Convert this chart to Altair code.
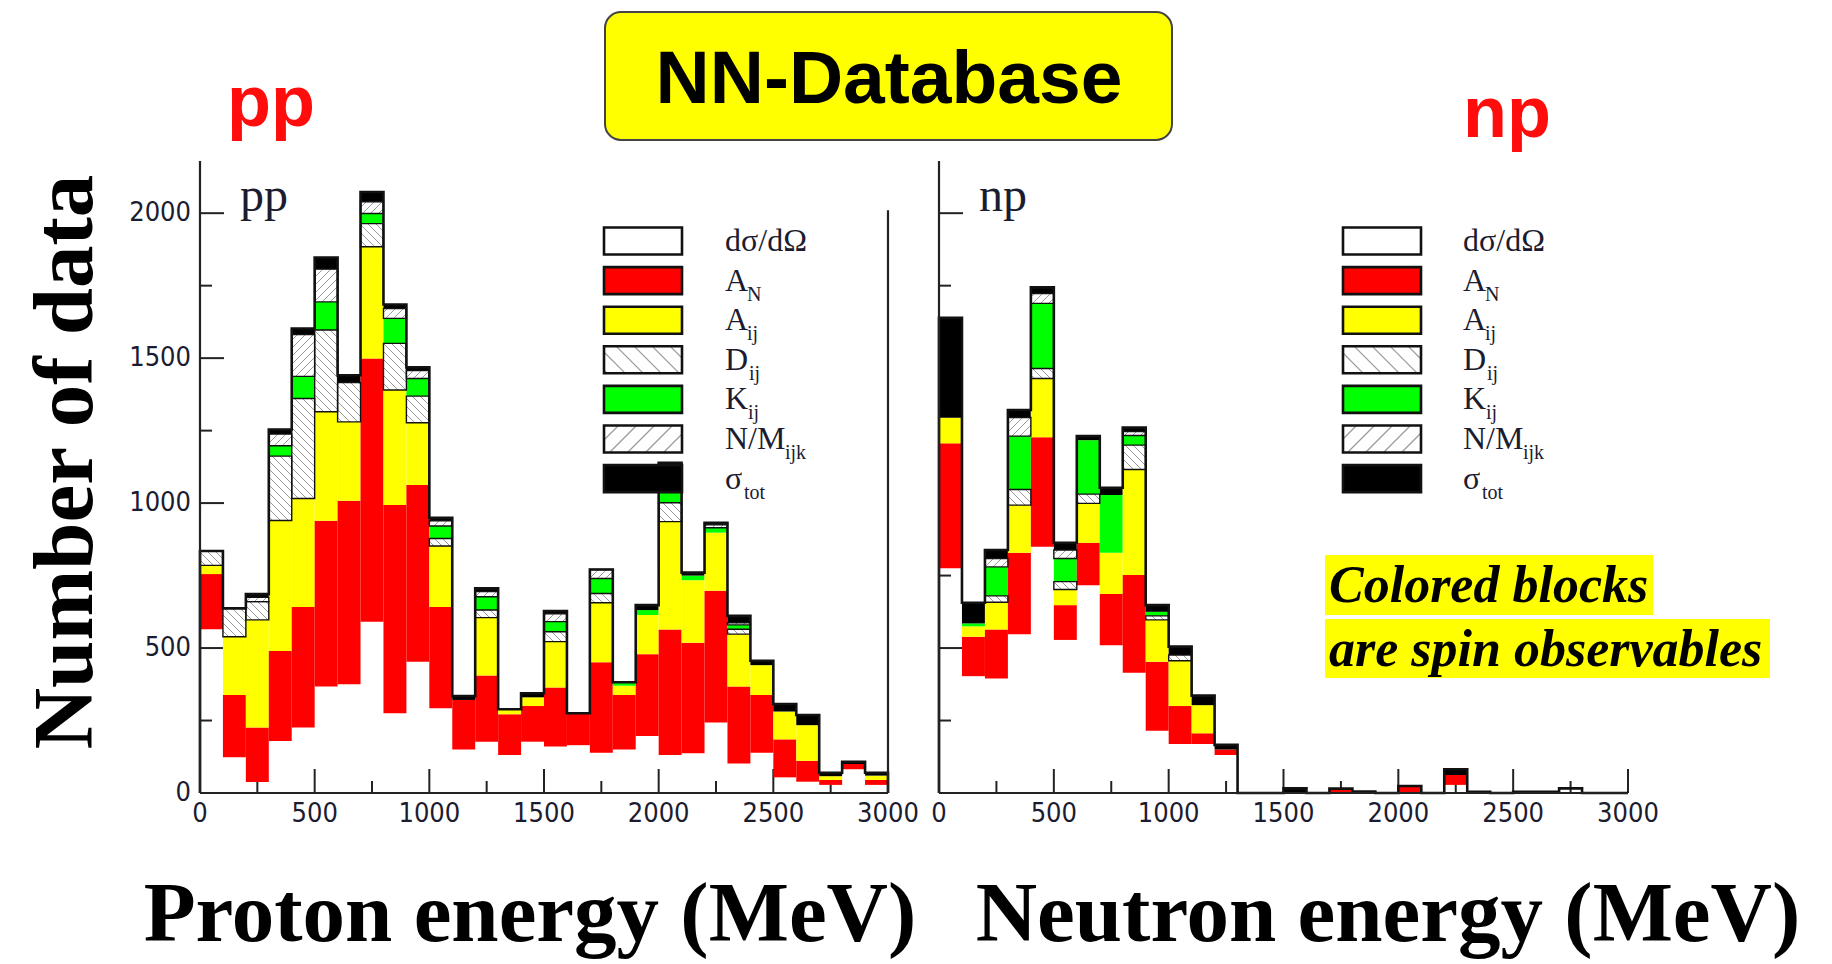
import math

import altair as alt
import pandas as pd

# ---------------------------------------------------------------------------
# Observable classes, stacked bottom to top in every 100 MeV energy bin
# ---------------------------------------------------------------------------
OBS = ["dσ/dΩ", "A_N", "A_ij", "D_ij", "K_ij", "N/M_ijk", "σ_tot"]
KEY_MAIN = ["dσ/dΩ", "A", "A", "D", "K", "N/M", "σ"]
KEY_SUB = ["", "N", "ij", "ij", "ij", "ijk", "tot"]

BIN_EDGES = list(range(0, 3001, 100))

# pp data, number of data points per bin
pp_dsg = [565, 123, 38, 179, 226, 367, 375, 591, 275, 453, 292, 150, 177, 131, 177,
          160, 165, 139, 150, 197, 131, 137, 243, 102, 139, 54, 39, 28, 82, 28]
pp_an = [190, 215, 188, 311, 416, 572, 633, 908, 718, 609, 350, 171, 228, 141, 123,
         204, 110, 312, 188, 282, 433, 381, 455, 265, 199, 131, 72, 17, 18, 17]
pp_aij = [30, 201, 371, 450, 374, 376, 272, 385, 397, 215, 210, 0, 200, 17, 30,
          158, 0, 205, 32, 135, 372, 216, 200, 181, 103, 96, 123, 13, 0, 15]
pp_dij = [50, 98, 63, 222, 345, 282, 136, 80, 161, 92, 26, 0, 26, 0, 0,
          34, 0, 32, 0, 0, 65, 0, 0, 17, 0, 0, 0, 0, 0, 0]
pp_kij = [0, 0, 0, 36, 76, 97, 0, 35, 86, 61, 43, 0, 46, 0, 0,
          35, 0, 52, 12, 17, 38, 16, 17, 15, 0, 0, 0, 0, 0, 0]
pp_nm = [0, 0, 15, 40, 144, 113, 0, 40, 34, 27, 18, 0, 18, 0, 0,
         27, 0, 31, 0, 0, 0, 0, 10, 7, 0, 0, 0, 0, 0, 0]
pp_tot = [0, 0, 11, 16, 21, 40, 25, 34, 14, 11, 10, 13, 11, 0, 14,
          10, 0, 0, 0, 17, 100, 10, 7, 24, 15, 26, 35, 12, 8, 10]

# np data, number of data points per bin
np_dsg = [775, 403, 395, 548, 849, 528, 717, 510, 415, 215, 169, 169, 131, 0, 0,
          0, 0, 3, 0, 0, 0, 0, 28, 0, 0, 0, 0, 16, 0, 0]
np_an = [431, 136, 169, 281, 378, 120, 146, 176, 337, 238, 131, 37, 19, 0, 0,
         0, 0, 12, 0, 0, 24, 0, 34, 0, 0, 0, 0, 0, 0, 0]
np_aij = [88, 36, 94, 164, 203, 54, 136, 143, 364, 144, 156, 97, 0, 0, 0,
          0, 0, 0, 0, 0, 0, 0, 0, 0, 0, 0, 0, 0, 0, 0]
np_dij = [0, 0, 22, 54, 34, 27, 32, 0, 84, 14, 20, 0, 0, 0, 0,
          0, 0, 0, 0, 0, 0, 0, 0, 0, 0, 0, 0, 0, 0, 0]
np_kij = [0, 10, 100, 184, 225, 80, 186, 199, 33, 14, 0, 0, 0, 0, 0,
          0, 0, 0, 0, 0, 0, 0, 0, 0, 0, 0, 0, 0, 0, 0]
np_nm = [0, 0, 29, 64, 34, 29, 0, 0, 14, 0, 0, 0, 0, 0, 0,
         0, 0, 0, 0, 0, 0, 0, 0, 0, 0, 0, 0, 0, 0, 0]
np_tot = [345, 71, 29, 26, 21, 25, 14, 25, 14, 23, 29, 33, 16, 0, 0,
          16, 0, 0, 5, 0, 0, 0, 20, 4, 0, 4, 4, 0, 0, 0]

Y_TICKS_MAJOR = [0, 500, 1000, 1500, 2000]
Y_TICKS_MINOR = [250, 750, 1250, 1750]
X_TICKS_MAJOR = [0, 500, 1000, 1500, 2000, 2500, 3000]
X_TICKS_MINOR = [250, 750, 1250, 1750, 2250, 2750]

# ---------------------------------------------------------------------------
# Page layout (pixels)
# ---------------------------------------------------------------------------
W, H = 1832, 964
Y_BASE, Y_TOP = 793, 161
Y_MAX = 2180
PANEL_PX = {"pp": (200, 888), "np": (939, 1628)}
KEY_PX = {"pp": (604, 725), "np": (1343, 1463)}

BAR_FILL = ["transparent", "#ff0000", "#ffff00", "#ffffff", "#00ff00", "#ffffff", "#000000"]
KEY_FILL = ["#ffffff", "#ff0000", "#ffff00", "#ffffff", "#00ff00", "#ffffff", "#000000"]
HATCH = {"D_ij": "back", "N/M_ijk": "fwd"}
INK = "#1c1c30"
TICK_FONT = "DejaVu Sans Condensed, DejaVu Sans, sans-serif"
SERIF = "Liberation Serif, Times New Roman, serif"
SANS = "Liberation Sans, Arial, sans-serif"


def hatch_px(x0, x1, y0, y1, direction, spacing):
    """Diagonal hatch segments clipped to a pixel rectangle (y pointing down)."""
    segs = []
    if direction == "back":  # lines y = x + c
        c = math.ceil((y0 - x1) / spacing) * spacing
        while c <= y1 - x0:
            xa, xb = max(x0, y0 - c), min(x1, y1 - c)
            if xb > xa:
                segs.append((xa, xa + c, xb, xb + c))
            c += spacing
    else:  # lines y = -x + c
        c = math.ceil((x0 + y0) / spacing) * spacing
        while c <= x1 + y1:
            xa, xb = max(x0, c - y1), min(x1, c - y0)
            if xb > xa:
                segs.append((xa, c - xa, xb, c - xb))
            c += spacing
    return segs


def stacked(cols):
    rows = []
    for i in range(len(BIN_EDGES) - 1):
        base = 0
        for k, obs in enumerate(OBS):
            v = cols[k][i]
            if v > 0:
                rows.append(dict(lo=BIN_EDGES[i], hi=BIN_EDGES[i + 1], obs=obs,
                                 y0=base, y1=base + v))
            base += v
    return pd.DataFrame(rows)


def envelope(cols):
    totals = [sum(c[i] for c in cols) for i in range(len(BIN_EDGES) - 1)]
    pts = [(BIN_EDGES[0], 0)]
    for i, t in enumerate(totals):
        pts.append((BIN_EDGES[i], t))
        pts.append((BIN_EDGES[i + 1], t))
    pts.append((BIN_EDGES[-1], 0))
    return pd.DataFrame([dict(e=e, n=n, k=j) for j, (e, n) in enumerate(pts)])


def hatch_data(seg, r0, r1, spacing):
    sx = (r1 - r0) / 3000.0
    sy = (Y_BASE - Y_TOP) / Y_MAX
    rows = []
    for _, s in seg[seg["obs"].isin(list(HATCH))].iterrows():
        px0, px1 = r0 + s.lo * sx, r0 + s.hi * sx
        py0, py1 = Y_BASE - s.y1 * sy, Y_BASE - s.y0 * sy
        for xa, ya, xb, yb in hatch_px(px0, px1, py0, py1, HATCH[s.obs], spacing):
            rows.append(dict(xa=(xa - r0) / sx, ya=(Y_BASE - ya) / sy,
                             xb=(xb - r0) / sx, yb=(Y_BASE - yb) / sy))
    return pd.DataFrame(rows, columns=["xa", "ya", "xb", "yb"])


def panel(name, cols, tag, with_y_labels):
    r0, r1 = PANEL_PX[name]
    xs = alt.Scale(domain=[0, 3000], range=[r0, r1], nice=False, zero=False)
    ys = alt.Scale(domain=[0, Y_MAX], range=[Y_BASE, Y_TOP], nice=False)

    def X(f):
        return alt.X(f, type="quantitative", scale=xs, axis=None)

    def Y(f):
        return alt.Y(f, type="quantitative", scale=ys, axis=None)

    seg = stacked(cols)
    layers = []

    # inward tick marks
    xmaj = pd.DataFrame({"v": X_TICKS_MAJOR})
    xmin = pd.DataFrame({"v": X_TICKS_MINOR})
    ymaj = pd.DataFrame({"v": Y_TICKS_MAJOR})
    ymin = pd.DataFrame({"v": Y_TICKS_MINOR})
    layers.append(alt.Chart(xmaj).mark_rule(color="#222", strokeWidth=2).encode(
        x=X("v"), y=alt.value(Y_BASE), y2=alt.value(Y_BASE - 24)))
    layers.append(alt.Chart(xmin).mark_rule(color="#222", strokeWidth=2).encode(
        x=X("v"), y=alt.value(Y_BASE), y2=alt.value(Y_BASE - 12)))
    layers.append(alt.Chart(ymaj).mark_rule(color="#222", strokeWidth=2).encode(
        y=Y("v"), x=alt.value(r0), x2=alt.value(r0 + 24)))
    layers.append(alt.Chart(ymin).mark_rule(color="#222", strokeWidth=2).encode(
        y=Y("v"), x=alt.value(r0), x2=alt.value(r0 + 12)))

    # stacked blocks
    layers.append(alt.Chart(seg).mark_rect().encode(
        x=X("lo"), x2="hi", y=Y("y0"), y2="y1",
        fill=alt.Fill("obs:N", scale=alt.Scale(domain=OBS, range=BAR_FILL), legend=None)))

    # hatching of the D_ij and N/M_ijk blocks
    hd = hatch_data(seg, r0, r1, 8)
    layers.append(alt.Chart(hd).mark_rule(color="#9a9a9a", strokeWidth=1).encode(
        x=X("xa"), y=Y("ya"), x2="xb", y2="yb"))
    layers.append(alt.Chart(seg[seg["obs"].isin(list(HATCH))]).mark_rect(
        fillOpacity=0, stroke="#111", strokeWidth=1.4).encode(
        x=X("lo"), x2="hi", y=Y("y0"), y2="y1"))

    # histogram envelope
    layers.append(alt.Chart(envelope(cols)).mark_line(
        color="#111", strokeWidth=2.6, strokeJoin="miter").encode(
        x=X("e"), y=Y("n"), order="k:Q"))

    # frame lines
    frame = pd.DataFrame({"x": [0, 0], "x2": [0, 3000], "y": [0, 0], "y2": [Y_MAX, 0]})
    if name == "pp":
        frame = pd.concat([frame, pd.DataFrame({"x": [3000], "x2": [3000],
                                                "y": [0], "y2": [2010]})])
    layers.append(alt.Chart(frame).mark_rule(color="#222", strokeWidth=2.2).encode(
        x=X("x"), x2="x2", y=Y("y"), y2="y2"))

    # tick labels
    layers.append(alt.Chart(xmaj).mark_text(
        font=TICK_FONT, fontSize=27, color=INK, align="center", baseline="alphabetic").encode(
        x=X("v"), y=alt.value(822), text=alt.Text("v:Q", format="d")))
    if with_y_labels:
        layers.append(alt.Chart(ymaj).mark_text(
            font=TICK_FONT, fontSize=27, color=INK, align="right", baseline="middle").encode(
            y=Y("v"), x=alt.value(r0 - 9), text=alt.Text("v:Q", format="d")))

    # reaction tag inside the frame
    layers.append(alt.Chart(pd.DataFrame({"t": [tag]})).mark_text(
        font=SERIF, fontSize=48, color=INK, align="left", baseline="alphabetic").encode(
        x=alt.value(r0 + 40), y=alt.value(211), text="t:N"))

    return alt.layer(*layers)


def key_layers():
    rows, hatch_rows = [], []
    sub_dx = [0, 22, 22, 24, 23, 60, 19]
    for name, (bx, tx) in KEY_PX.items():
        for i, obs in enumerate(OBS):
            yc = 241 + 39.6 * i
            rows.append(dict(obs=obs, bx0=bx, bx1=bx + 78, by0=yc - 13.5, by1=yc + 13.5,
                             tx=tx, ty=yc, main=KEY_MAIN[i], sub=KEY_SUB[i],
                             sx=tx + sub_dx[i], sy=yc + 14))
            if obs in HATCH:
                for xa, ya, xb, yb in hatch_px(bx, bx + 78, yc - 13.5, yc + 13.5,
                                               HATCH[obs], 18):
                    hatch_rows.append(dict(xa=xa, ya=ya, xb=xb, yb=yb))
    kd = pd.DataFrame(rows)
    hd = pd.DataFrame(hatch_rows)
    PX = dict(scale=None, axis=None)
    boxes = alt.Chart(kd).mark_rect().encode(
        x=alt.X("bx0:Q", **PX), x2="bx1", y=alt.Y("by0:Q", **PX), y2="by1",
        fill=alt.Fill("obs:N", scale=alt.Scale(domain=OBS, range=KEY_FILL), legend=None))
    hatch = alt.Chart(hd).mark_rule(color="#9a9a9a", strokeWidth=1.2).encode(
        x=alt.X("xa:Q", **PX), y=alt.Y("ya:Q", **PX), x2="xb", y2="yb")
    frames = alt.Chart(kd).mark_rect(fillOpacity=0, stroke="#111", strokeWidth=2.6).encode(
        x=alt.X("bx0:Q", **PX), x2="bx1", y=alt.Y("by0:Q", **PX), y2="by1")
    mains = alt.Chart(kd).mark_text(
        font=SERIF, fontSize=32, color=INK, align="left", baseline="middle").encode(
        x=alt.X("tx:Q", **PX), y=alt.Y("ty:Q", **PX), text="main:N")
    subs = alt.Chart(kd).mark_text(
        font=SERIF, fontSize=20, color=INK, align="left", baseline="middle").encode(
        x=alt.X("sx:Q", **PX), y=alt.Y("sy:Q", **PX), text="sub:N")
    return [boxes, hatch, frames, mains, subs]


def label(text, x, y, **kw):
    return alt.Chart(pd.DataFrame({"t": [text]})).mark_text(**kw).encode(
        x=alt.value(x), y=alt.value(y), text="t:N")


def box(x0, x1, y0, y1, **kw):
    return alt.Chart(pd.DataFrame({"b": [0]})).mark_rect(**kw).encode(
        x=alt.value(x0), x2=alt.value(x1), y=alt.value(y0), y2=alt.value(y1))


pp_cols = [pp_dsg, pp_an, pp_aij, pp_dij, pp_kij, pp_nm, pp_tot]
np_cols = [np_dsg, np_an, np_aij, np_dij, np_kij, np_nm, np_tot]

left = panel("pp", pp_cols, "pp", True)
right = panel("np", np_cols, "np", False)

decor = [
    box(605, 1172, 12, 140, fill="#ffff00", stroke="#444", strokeWidth=2, cornerRadius=16),
    label("NN-Database", 889, 103, font=SANS, fontWeight="bold", fontSize=75,
          color="#000", align="center", baseline="alphabetic"),
    label("pp", 227, 126, font=SANS, fontWeight="bold", fontSize=72,
          color="#ff0d0d", align="left", baseline="alphabetic"),
    label("np", 1463, 137, font=SANS, fontWeight="bold", fontSize=72,
          color="#ff0d0d", align="left", baseline="alphabetic"),
    label("Number of data", 92, 462, font=SERIF, fontWeight="bold", fontSize=85,
          color="#000", align="center", baseline="alphabetic", angle=270),
    label("Proton energy (MeV)", 530, 941, font=SERIF, fontWeight="bold", fontSize=85,
          color="#000", align="center", baseline="alphabetic"),
    label("Neutron energy (MeV)", 1388, 941, font=SERIF, fontWeight="bold", fontSize=85,
          color="#000", align="center", baseline="alphabetic"),
    box(1325, 1653, 555, 615, fill="#ffff00"),
    box(1325, 1770, 619, 678, fill="#ffff00"),
    label("Colored blocks", 1329, 602, font=SERIF, fontWeight="bold", fontStyle="italic",
          fontSize=52, color="#000", align="left", baseline="alphabetic"),
    label("are spin observables", 1329, 666, font=SERIF, fontWeight="bold",
          fontStyle="italic", fontSize=52, color="#000", align="left", baseline="alphabetic"),
]

overlay = alt.layer(*key_layers(), *decor)

chart = alt.layer(left, right, overlay).resolve_scale(
    x="independent", y="independent", fill="independent"
).properties(
    width=W, height=H, autosize=alt.AutoSizeParams(type="none"), padding=0,
    background="#ffffff",
).configure_view(stroke=None)

chart.save("out.html", embed_options={"renderer": "svg", "actions": False})
